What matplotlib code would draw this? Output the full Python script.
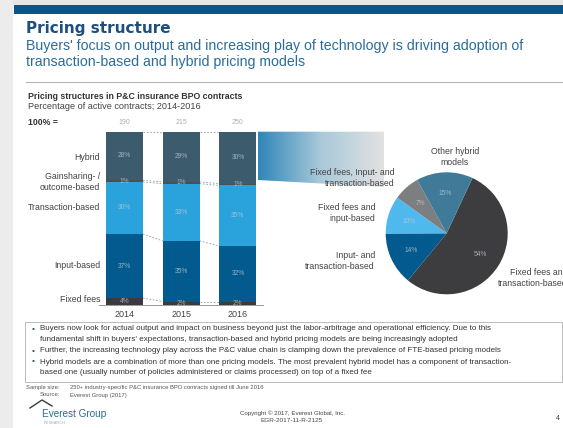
import matplotlib

matplotlib.use("Agg")
import matplotlib.pyplot as plt
import numpy as np
from matplotlib.colors import LinearSegmentedColormap
from matplotlib.patches import Polygon, Rectangle

plt.rcParams["font.family"] = ["Liberation Sans", "DejaVu Sans"]

# bar chart data: share of active contracts (%), bottom to top
years = ["2014", "2015", "2016"]
totals = ["190", "215", "250"]
segments = ["Fixed fees", "Input-based", "Transaction-based", "Gainsharing- / outcome-based", "Hybrid"]
fixed_fees = [4, 2, 2]
input_based = [37, 35, 32]
transaction_based = [30, 33, 35]
gainsharing = [1, 1, 1]
hybrid = [28, 29, 30]
seg_colors = ["#3a3b3d", "#035a8e", "#2aa3dd", "#4a4f55", "#3c5b6c"]

# pie data: hybrid models in 2016 (%)
pie_labels = ["Fixed fees and\ntransaction-based", "Input- and\ntransaction-based",
              "Fixed fees and\ninput-based", "Fixed fees, Input- and\ntransaction-based",
              "Other hybrid\nmodels"]
pie_values = [54, 14, 10, 7, 15]
pie_colors = ["#3d3d3f", "#035a8e", "#4fb9ee", "#7d7e80", "#3f7b98"]

W, H = 563, 428
fig = plt.figure(figsize=(W / 100, H / 100), dpi=100)

# background axes in pixel coordinates for slide furniture
bg = fig.add_axes([0, 0, 1, 1])
bg.axis("off")

bg.add_patch(Rectangle((0, 0), W, 5, color="#e6e6e6", lw=0))
bg.add_patch(Rectangle((0, 0), 13, H, color="#ececec", lw=0))
bg.add_patch(Rectangle((14, 5), W - 14, 9, color="#05558f", lw=0))
bg.plot([26, W], [82, 82], color="#b5b5b5", lw=0.8)

bg.text(26, 28, "Pricing structure", fontsize=11, fontweight="heavy", color="#1c4f7c",
        va="center", family="DejaVu Sans")
bg.text(26, 54, "Buyers' focus on output and increasing play of technology is driving adoption of\n"
        "transaction-based and hybrid pricing models", fontsize=10.2, color="#2a6d9c",
        va="center", linespacing=1.2)

bg.text(28, 96, "Pricing structures in P&C insurance BPO contracts", fontsize=6.3,
        fontweight="bold", color="#333333", va="center")
bg.text(28, 106.5, "Percentage of active contracts; 2014-2016", fontsize=6.6, color="#444444", va="center")
bg.text(28, 122, "100% =", fontsize=6.3, fontweight="bold", color="#333333", va="center")

# category labels next to the bars
cat_pos = [("Hybrid", 157), ("Gainsharing- /\noutcome-based", 182), ("Transaction-based", 207),
           ("Input-based", 266), ("Fixed fees", 299)]
for txt, y in cat_pos:
    bg.text(100, y, txt, fontsize=6.3, color="#444444", ha="right", va="center", linespacing=1.15)

# gradient band from the 2016 hybrid segment to the pie
grad = np.linspace(0, 1, 256).reshape(1, -1)
cmap = LinearSegmentedColormap.from_list("band", ["#2f86b8", "#a9c9d9", "#e2e2e2"])
im = bg.imshow(grad, cmap=cmap, extent=(258, 384, 187, 131), aspect="auto", zorder=1)
band = Polygon([(258, 131.7), (384, 131.7), (384, 187), (258, 180)], closed=True,
               transform=bg.transData, facecolor="none", edgecolor="none")
bg.add_patch(band)
im.set_clip_path(band)
bg.set_xlim(0, W)
bg.set_ylim(H, 0)

# bar chart
ax = fig.add_axes([90.5 / W, (H - 305) / H, 181.4 / W, 173.3 / H])
x = np.arange(len(years))
width = 0.65
stack = [fixed_fees, input_based, transaction_based, gainsharing, hybrid]
bottom = np.zeros(len(years))
tops = []
for name, vals, col in zip(segments, stack, seg_colors):
    vals = np.array(vals, dtype=float)
    ax.bar(x, vals, width, bottom=bottom, color=col, zorder=2)
    for xi, b, v in zip(x, bottom, vals):
        ax.text(xi, b + v / 2, f"{int(v)}%", ha="center", va="center", fontsize=4.8,
                color="#b9c9d4", alpha=0.8, zorder=3)
    bottom = bottom + vals
    tops.append(bottom.copy())
for level in tops:
    for i in range(len(years) - 1):
        ax.plot([x[i] + width / 2, x[i + 1] - width / 2], [level[i], level[i + 1]],
                ls=(0, (2, 2)), color="#9a9a9a", lw=0.6, zorder=1)
ax.set_xlim(-0.6, 2.6)
ax.set_ylim(0, 100)
ax.axis("off")
ax.plot([-0.45, 2.45], [0, 0], color="#999999", lw=0.7, clip_on=False)
for xi, yr, tot in zip(x, years, totals):
    ax.text(xi, -2.8, yr, ha="center", va="top", fontsize=6.5, color="#444444")
    ax.text(xi, 105.5, tot, ha="center", va="center", fontsize=5, color="#b0b0b0")

# pie chart
r = 61
pax = fig.add_axes([(446.7 - r) / W, (H - 233.3 - r) / H, 2 * r / W, 2 * r / H])
pax.pie(pie_values, colors=pie_colors, startangle=65, counterclock=False,
        autopct="%d%%", pctdistance=0.65, radius=1,
        textprops=dict(fontsize=4.8, color="#b9c9d4", alpha=0.8),
        wedgeprops=dict(linewidth=0))
pax.set_xlim(-1, 1)
pax.set_ylim(-1, 1)
pax.set_aspect("equal")

# the last label runs off the right edge of the slide, as in the original
pie_label_pos = [(498, 278, "left"), (375, 261, "right"), (375, 213, "right"),
                 (395, 178, "right"), (455, 157, "center")]
for lab, (px, py, ha) in zip(pie_labels, pie_label_pos):
    bg.text(px, py, lab, fontsize=6.3, color="#444444", ha=ha, va="center", linespacing=1.15,
            multialignment="center" if ha == "center" else "right", zorder=5)

# commentary box
bg.add_patch(Rectangle((25, 322), W - 26, 60, facecolor="none", edgecolor="#bbbbbb", lw=0.7))
bullets = [
    (329, "Buyers now look for actual output and impact on business beyond just the labor-arbitrage and operational efficiency. Due to this", True),
    (339.5, "fundamental shift in buyers' expectations, transaction-based and hybrid pricing models are being increasingly adopted", False),
    (351, "Further, the increasing technology play across the P&C value chain is clamping down the prevalence of FTE-based pricing models", True),
    (362, "Hybrid models are a combination of more than one pricing models. The most prevalent hybrid model has a component of transaction-", True),
    (372.5, "based one (usually number of policies administered or claims processed) on top of a fixed fee", False),
]
for y, txt, has_bullet in bullets:
    if has_bullet:
        bg.text(32, y, "\u2022", fontsize=6, color="#1c4f7c", va="center")
    bg.text(40, y, txt, fontsize=5.75, color="#333333", va="center")

bg.text(60, 388, "Sample size:", fontsize=4.2, color="#555555", ha="right", va="center")
bg.text(70, 388, "250+ industry-specific P&C insurance BPO contracts signed till June 2016",
        fontsize=4.2, color="#555555", va="center")
bg.text(60, 395, "Source:", fontsize=4.2, color="#555555", ha="right", va="center")
bg.text(70, 395, "Everest Group (2017)", fontsize=4.2, color="#555555", va="center")

# logo
bg.plot([30, 42, 52], [408, 400, 406], color="#3a3a3a", lw=1.0)
bg.text(42, 414, "Everest Group", fontsize=7.2, color="#2a6f8e", va="center")
bg.text(44, 423.5, "RESEARCH", fontsize=2.8, color="#9aa8b0", va="center")

bg.text(292, 413, "Copyright \u00a9 2017, Everest Global, Inc.", fontsize=4.4, color="#444444",
        ha="center", va="center")
bg.text(292, 420.5, "EGR-2017-11-R-2125", fontsize=4.6, color="#444444", ha="center", va="center")
bg.text(558, 418, "4", fontsize=5, color="#444444", ha="center", va="center")

fig.savefig("out.png", dpi=100)
